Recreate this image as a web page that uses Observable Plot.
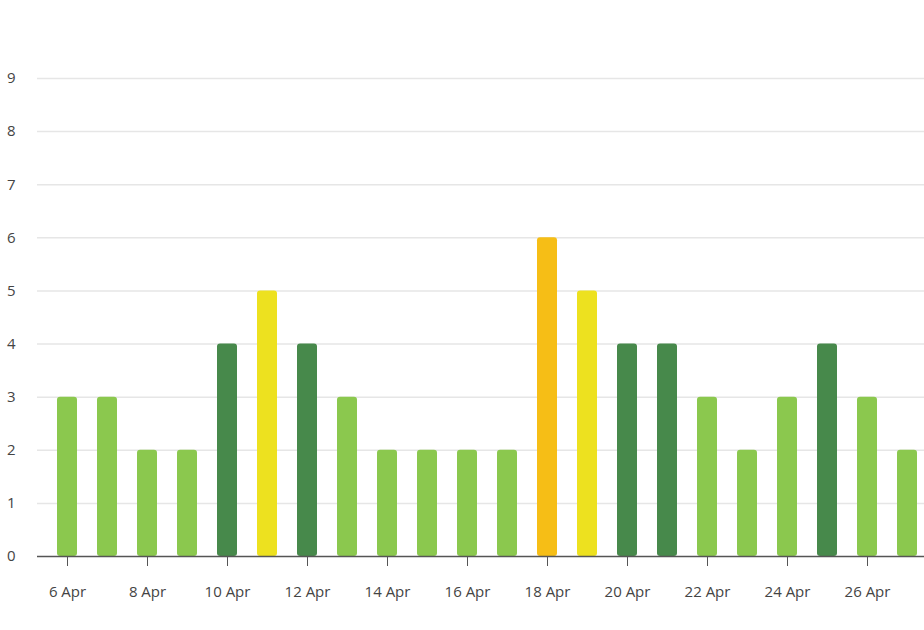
<!DOCTYPE html>
<html>
<head>
<meta charset="utf-8">
<script src="https://cdn.jsdelivr.net/npm/d3@7"></script>
<script src="https://cdn.jsdelivr.net/npm/@observablehq/plot@0.6"></script>
<style>
  html, body { margin: 0; padding: 0; background: #fff; overflow: hidden; width: 924px; height: 630px; }
  #chart { position: absolute; left: 0; top: 0; width: 977px; }
  #chart svg { max-width: none !important; }
</style>
</head>
<body>
<div id="chart"></div>
<script>
const days = ["6 Apr","7 Apr","8 Apr","9 Apr","10 Apr","11 Apr","12 Apr","13 Apr","14 Apr","15 Apr","16 Apr","17 Apr","18 Apr","19 Apr","20 Apr","21 Apr","22 Apr","23 Apr","24 Apr","25 Apr","26 Apr","27 Apr"];
const values = [3,3,2,2,4,5,4,3,2,2,2,2,6,5,4,4,3,2,3,4,3,2];
const axisDays = [...days, "28 Apr"];
const tickDays = axisDays.filter((d, i) => i % 2 === 0);
const yTicks = [0,1,2,3,4,5,6,7,8,9];
const levelValues = [2,3,4,5,6];
const levelColors = ["#8bc84e","#8bc84e","#47894b","#ede11f","#f6be16"];

const data = days.map((d, i) => ({day: d, value: values[i]}));

const chart = Plot.plot({
  width: 977,
  height: 616,
  marginLeft: 37,
  marginRight: 0,
  marginTop: 78,
  marginBottom: 60,
  style: {fontFamily: "'Open Sans', sans-serif", fontSize: "15px", color: "#444", background: "#fff", maxWidth: "none"},
  x: {type: "band", domain: axisDays, paddingInner: 0.5, paddingOuter: 0.5, label: null},
  y: {domain: [0, 9], label: null},
  color: {type: "ordinal", domain: levelValues, range: levelColors},
  marks: [
    Plot.gridY(yTicks.filter(t => t > 0), {stroke: "#e6e6e6", strokeOpacity: 1, strokeWidth: 1.5}),
    Plot.axisY(yTicks, {tickSize: 0, tickPadding: 22, tickFormat: d3.format("d"), fontSize: 15, fill: "#444"}),
    Plot.barY(data, {x: "day", y: "value", fill: d => d.value, rx: 3}),
    Plot.ruleY([0], {stroke: "#555", strokeWidth: 1.5}),
    Plot.axisX(tickDays, {tickSize: 10, stroke: "#555", tickPadding: 20, fontSize: 15, fill: "#444"})
  ]
});
document.getElementById("chart").appendChild(chart);
</script>
</body>
</html>
